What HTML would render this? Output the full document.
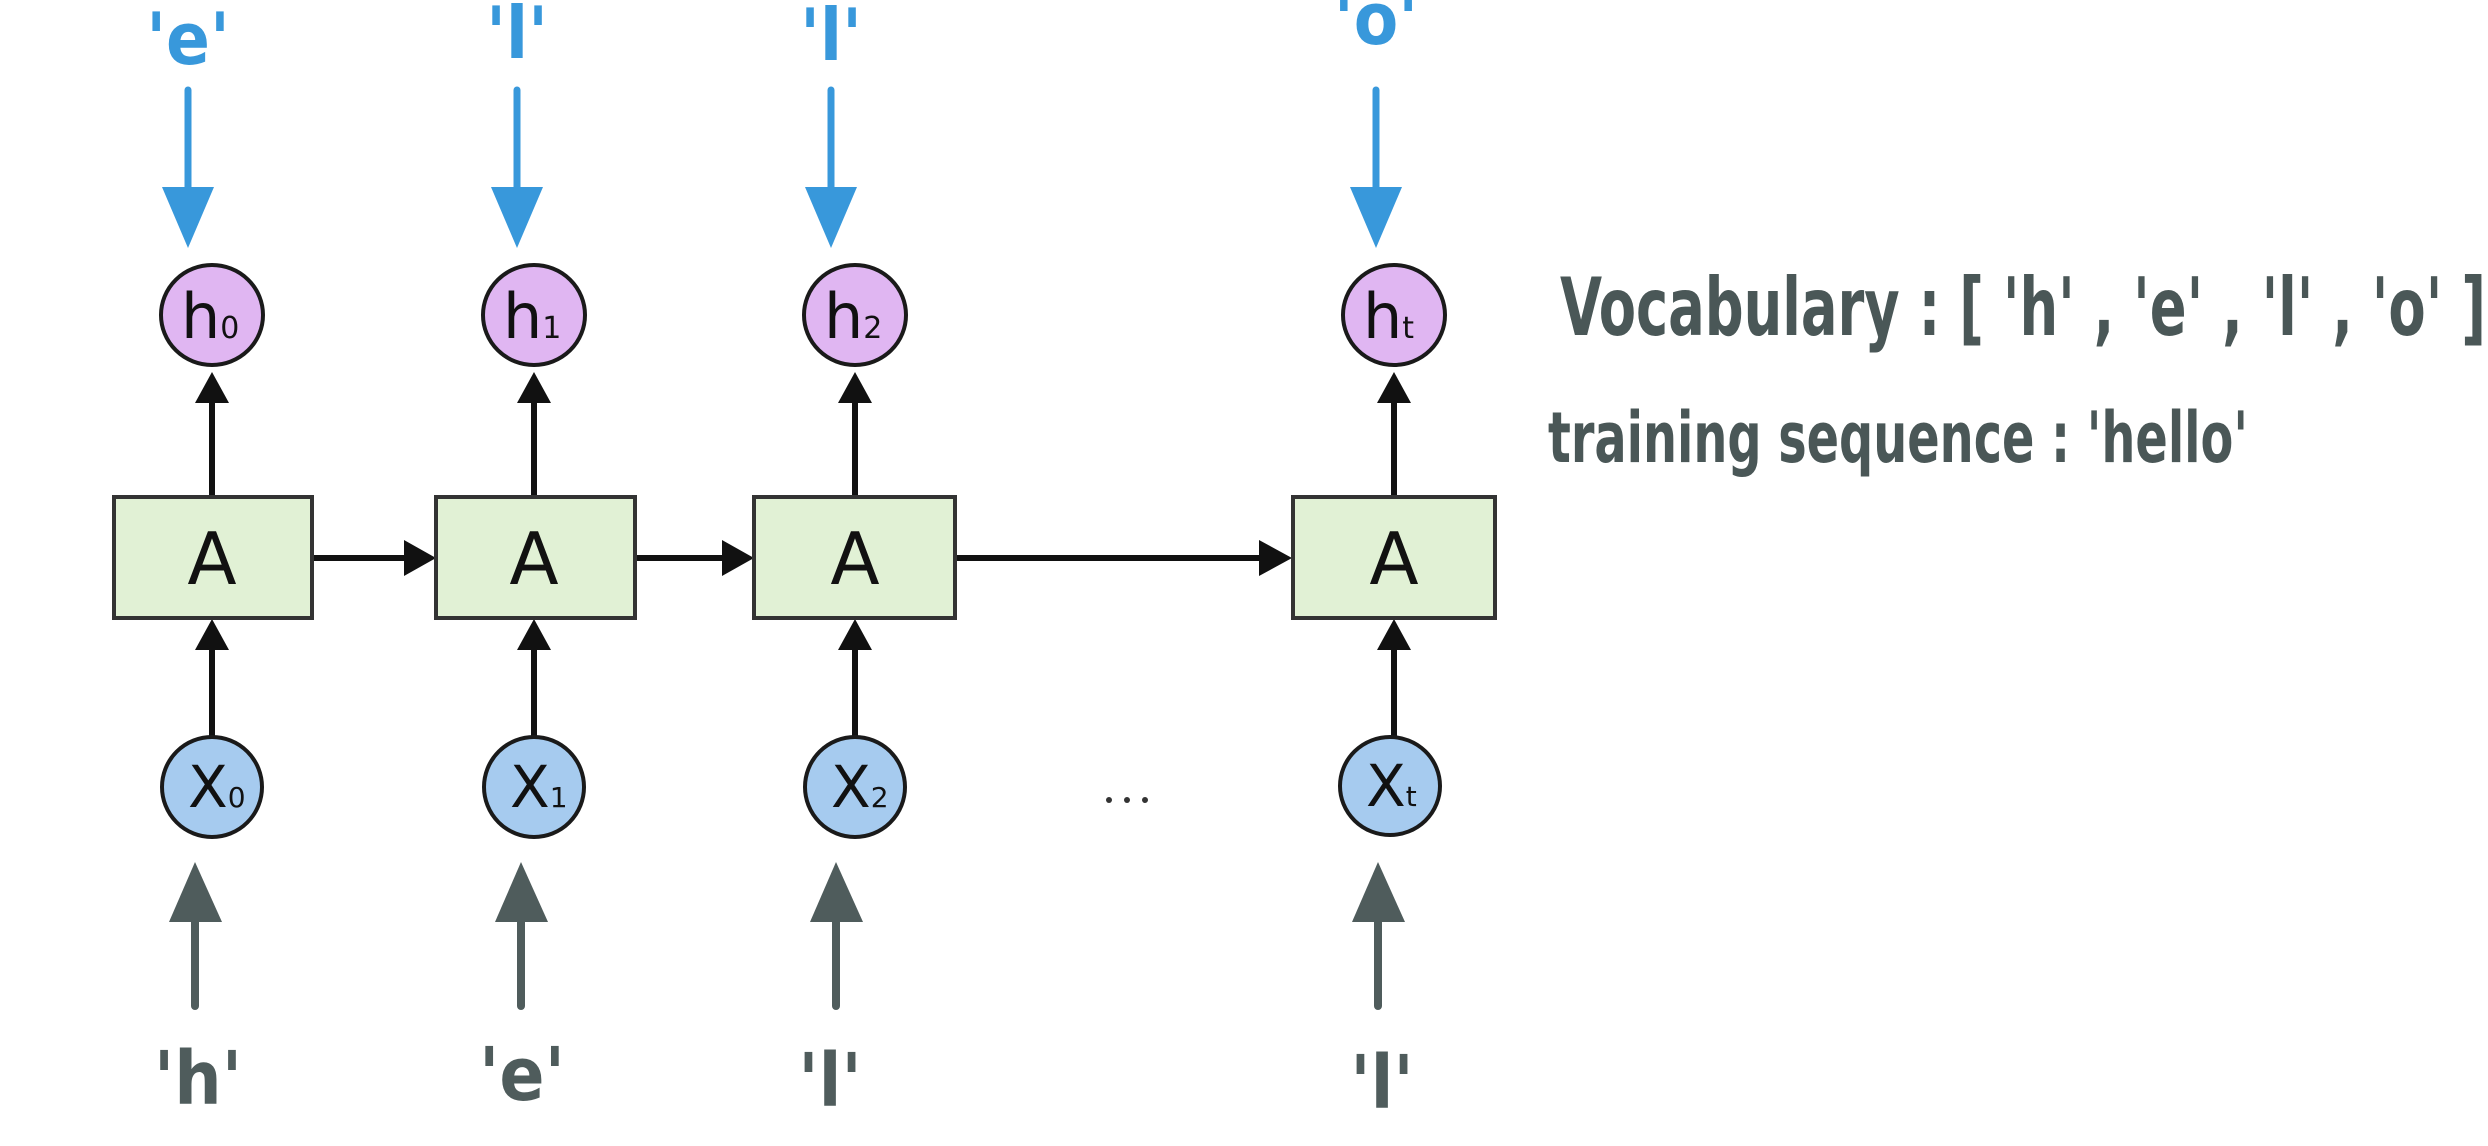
<!DOCTYPE html>
<html><head><meta charset="utf-8"><style>
html,body{margin:0;padding:0;background:#fff;}
svg{display:block;}
.hand{font-family:"DejaVu Sans Condensed","DejaVu Sans",sans-serif;font-weight:bold;}
.lab{font-family:"DejaVu Sans","Liberation Sans",sans-serif;}
</style></head><body>
<svg width="2488" height="1146" viewBox="0 0 2488 1146" xmlns="http://www.w3.org/2000/svg">
<rect width="2488" height="1146" fill="#fff"/>
<!-- blue output labels -->
<g fill="#3898db" class="hand" font-size="72" text-anchor="middle">
<text x="188" y="64">'e'</text>
<text x="517" y="58">'l'</text>
<text x="831" y="60">'l'</text>
<text x="1376" y="44">'o'</text>
</g>
<!-- blue arrows -->
<g stroke="#3898db" stroke-width="7" stroke-linecap="round" fill="#3898db">
<line x1="188" y1="90" x2="188" y2="190"/><polygon stroke="none" points="162,187 214,187 188,248"/>
<line x1="517" y1="90" x2="517" y2="190"/><polygon stroke="none" points="491,187 543,187 517,248"/>
<line x1="831" y1="90" x2="831" y2="190"/><polygon stroke="none" points="805,187 857,187 831,248"/>
<line x1="1376" y1="90" x2="1376" y2="190"/><polygon stroke="none" points="1350,187 1402,187 1376,248"/>
</g>
<!-- black vertical arrows -->
<g stroke="#111" stroke-width="6" fill="#111">
<line x1="212" y1="496" x2="212" y2="395"/><polygon stroke="none" points="195,403 229,403 212,372"/>
<line x1="534" y1="496" x2="534" y2="395"/><polygon stroke="none" points="517,403 551,403 534,372"/>
<line x1="855" y1="496" x2="855" y2="395"/><polygon stroke="none" points="838,403 872,403 855,372"/>
<line x1="1394" y1="496" x2="1394" y2="395"/><polygon stroke="none" points="1377,403 1411,403 1394,372"/>
<line x1="212" y1="737" x2="212" y2="645"/><polygon stroke="none" points="195,650 229,650 212,619"/>
<line x1="534" y1="737" x2="534" y2="645"/><polygon stroke="none" points="517,650 551,650 534,619"/>
<line x1="855" y1="737" x2="855" y2="645"/><polygon stroke="none" points="838,650 872,650 855,619"/>
<line x1="1394" y1="737" x2="1394" y2="645"/><polygon stroke="none" points="1377,650 1411,650 1394,619"/>
<!-- horizontal -->
<line x1="312" y1="558" x2="410" y2="558"/><polygon stroke="none" points="404,540 404,576 436,558"/>
<line x1="635" y1="558" x2="728" y2="558"/><polygon stroke="none" points="722,540 722,576 754,558"/>
<line x1="955" y1="558" x2="1265" y2="558"/><polygon stroke="none" points="1259,540 1259,576 1292,558"/>
</g>
<!-- h circles -->
<g fill="#e0b6f2" stroke="#1a1a1a" stroke-width="4">
<ellipse cx="212" cy="315" rx="51" ry="50"/>
<ellipse cx="534" cy="315" rx="51" ry="50"/>
<ellipse cx="855" cy="315" rx="51" ry="50"/>
<ellipse cx="1394" cy="315" rx="51" ry="50"/>
</g>
<g class="lab" fill="#111" font-size="62">
<text x="181" y="338">h<tspan font-size="30">0</tspan></text>
<text x="503" y="338">h<tspan font-size="30">1</tspan></text>
<text x="824" y="338">h<tspan font-size="30">2</tspan></text>
<text x="1363" y="338">h<tspan font-size="30">t</tspan></text>
</g>
<!-- A boxes -->
<g fill="#e1f1d5" stroke="#333" stroke-width="4">
<rect x="114" y="497" width="198" height="121"/>
<rect x="436" y="497" width="199" height="121"/>
<rect x="754" y="497" width="201" height="121"/>
<rect x="1293" y="497" width="202" height="121"/>
</g>
<g class="lab" fill="#111" font-size="72" text-anchor="middle">
<text x="212" y="584">A</text>
<text x="534" y="584">A</text>
<text x="855" y="584">A</text>
<text x="1394" y="584">A</text>
</g>
<!-- x circles -->
<g fill="#a6cbef" stroke="#1a1a1a" stroke-width="4">
<ellipse cx="212" cy="787" rx="50" ry="50"/>
<ellipse cx="534" cy="787" rx="50" ry="50"/>
<ellipse cx="855" cy="787" rx="50" ry="50"/>
<ellipse cx="1390" cy="786" rx="50" ry="49"/>
</g>
<g class="lab" fill="#111" font-size="58">
<text x="188" y="807">X<tspan font-size="28">0</tspan></text>
<text x="510" y="807">X<tspan font-size="28">1</tspan></text>
<text x="831" y="807">X<tspan font-size="28">2</tspan></text>
<text x="1366" y="806">X<tspan font-size="28">t</tspan></text>
</g>
<g fill="#333"><circle cx="1109" cy="800" r="3"/><circle cx="1127" cy="800" r="3"/><circle cx="1145" cy="800" r="3"/></g>
<!-- gray input arrows -->
<g stroke="#4f5c5c" stroke-width="8" stroke-linecap="round" fill="#4f5c5c">
<line x1="195" y1="918" x2="195" y2="1006"/><polygon stroke="none" points="169,922 222,922 195,862"/>
<line x1="521" y1="918" x2="521" y2="1006"/><polygon stroke="none" points="495,922 548,922 521,862"/>
<line x1="836" y1="918" x2="836" y2="1006"/><polygon stroke="none" points="810,922 863,922 836,862"/>
<line x1="1378" y1="918" x2="1378" y2="1006"/><polygon stroke="none" points="1352,922 1405,922 1378,862"/>
</g>
<g fill="#4f5c5c" class="hand" font-size="74" text-anchor="middle">
<text x="198" y="1104">'h'</text>
<text x="522" y="1100">'e'</text>
<text x="830" y="1106">'l'</text>
<text x="1382" y="1108">'l'</text>
</g>
<!-- right text -->
<g fill="#4a5757" class="hand">
<text x="1560" y="335" font-size="80" textLength="926" lengthAdjust="spacingAndGlyphs">Vocabulary : [ 'h' , 'e' , 'l' , 'o' ]</text>
<text x="1548" y="462" font-size="70" textLength="700" lengthAdjust="spacingAndGlyphs">training sequence : 'hello'</text>
</g>
</svg>
</body></html>
